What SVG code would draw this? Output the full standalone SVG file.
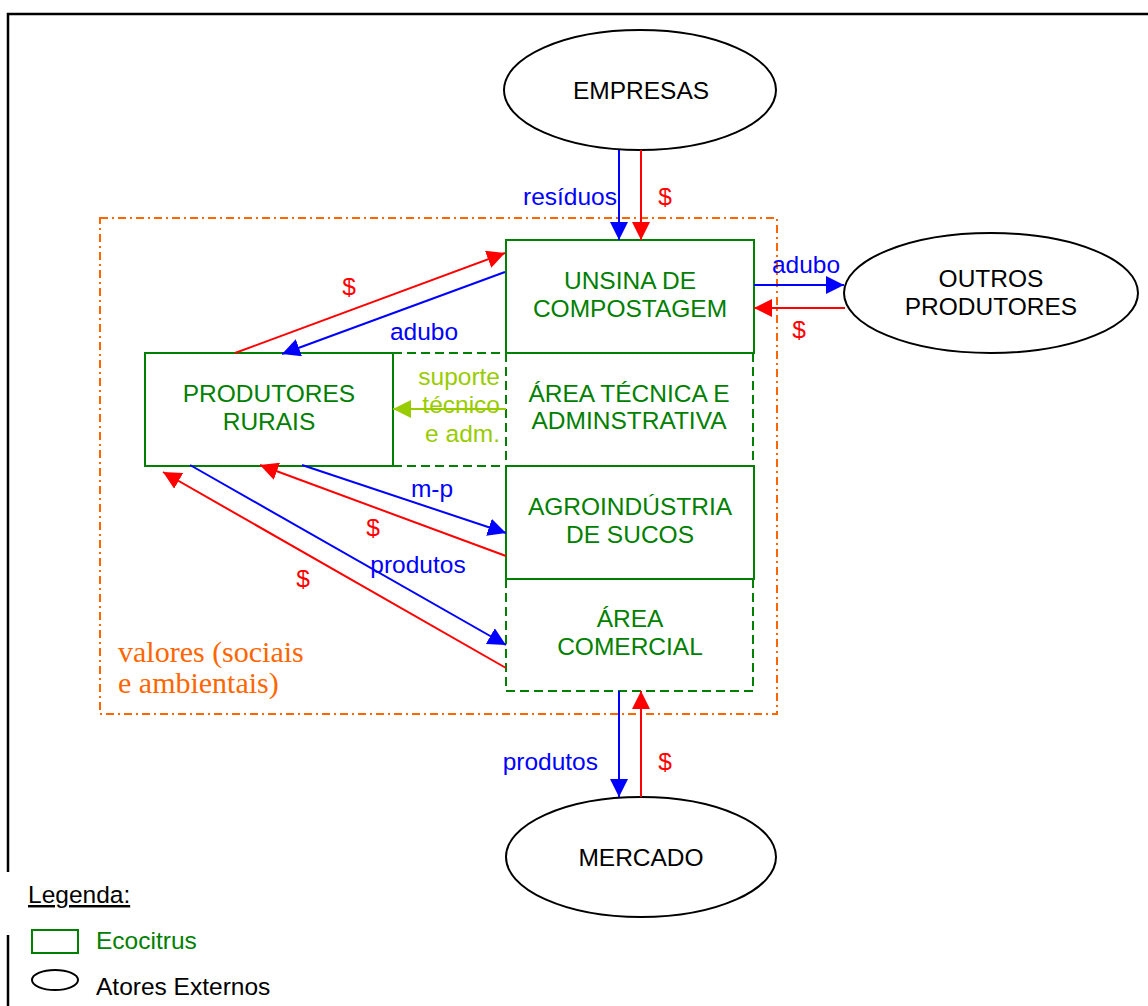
<svg xmlns="http://www.w3.org/2000/svg" width="1148" height="1006" viewBox="0 0 1148 1006">
<style>
text{font-family:"Liberation Sans",Arial,sans-serif;font-size:24.5px}
.g{fill:#008000}
.b{fill:#0000ff}
.r{fill:#ff0000}
.k{fill:#000}
.lg{fill:#99cc00}
.box{fill:none;stroke:#008000;stroke-width:2}
.dash{fill:none;stroke:#008000;stroke-width:2;stroke-dasharray:9,5}
.ell{fill:#fff;stroke:#000;stroke-width:2}
.ab{stroke:#0000ff;stroke-width:2;fill:none}
.ar{stroke:#ff0000;stroke-width:2;fill:none}
.ag{stroke:#99cc00;stroke-width:2;fill:none}
.serif{font-family:"Liberation Serif","Times New Roman",serif;font-size:30px;fill:#ff6600}
</style>
<defs>
<marker id="mb" markerUnits="userSpaceOnUse" markerWidth="20" markerHeight="18" refX="18" refY="9" orient="auto"><path d="M0,0 L18,9 L0,18 z" fill="#0000ff"/></marker>
<marker id="mr" markerUnits="userSpaceOnUse" markerWidth="20" markerHeight="18" refX="18" refY="9" orient="auto"><path d="M0,0 L18,9 L0,18 z" fill="#ff0000"/></marker>
<marker id="mg" markerUnits="userSpaceOnUse" markerWidth="20" markerHeight="18" refX="18" refY="9" orient="auto"><path d="M0,0 L18,9 L0,18 z" fill="#99cc00"/></marker>
</defs>
<rect width="1148" height="1006" fill="#fff"/>
<g id="frame">
<path d="M8,872 V14 H1148" fill="none" stroke="#000" stroke-width="2.5"/>
<path d="M8,935 V1006" fill="none" stroke="#000" stroke-width="2.5"/>
</g>
<g id="valores">
<rect x="100" y="218" width="677" height="496" fill="none" stroke="#ff6600" stroke-width="2" stroke-dasharray="8,4,2,4"/>
<text class="serif" x="118" y="662">valores (sociais</text>
<text class="serif" x="118" y="693">e ambientais)</text>
</g>
<g id="empresas">
<ellipse class="ell" cx="640" cy="90" rx="136" ry="60"/>
<text class="k" x="641" y="99" text-anchor="middle">EMPRESAS</text>
</g>
<g id="outros">
<ellipse class="ell" cx="991" cy="293" rx="147" ry="60"/>
<text class="k" x="991" y="287" text-anchor="middle">OUTROS</text>
<text class="k" x="991" y="315" text-anchor="middle">PRODUTORES</text>
</g>
<g id="mercado">
<ellipse class="ell" cx="641" cy="857" rx="135" ry="60"/>
<text class="k" x="641" y="866" text-anchor="middle">MERCADO</text>
</g>
<g id="usina">
<rect class="box" x="506" y="240" width="248" height="113"/>
<text class="g" x="630" y="289" text-anchor="middle">UNSINA DE</text>
<text class="g" x="630" y="317" text-anchor="middle">COMPOSTAGEM</text>
</g>
<g id="area-tecnica">
<path class="dash" d="M393,353 H506 M393,466 H506 M506,353 V466 M753,353 V466"/>
<text class="g" x="629" y="402" text-anchor="middle">ÁREA TÉCNICA E</text>
<text class="g" x="629" y="429" text-anchor="middle">ADMINSTRATIVA</text>
</g>
<g id="produtores">
<rect class="box" x="145" y="353" width="248" height="113"/>
<text class="g" x="269" y="402" text-anchor="middle">PRODUTORES</text>
<text class="g" x="269" y="430" text-anchor="middle">RURAIS</text>
</g>
<g id="agroindustria">
<rect class="box" x="506" y="466" width="248" height="113"/>
<text class="g" x="630" y="515" text-anchor="middle">AGROINDÚSTRIA</text>
<text class="g" x="630" y="543" text-anchor="middle">DE SUCOS</text>
</g>
<g id="area-comercial">
<path class="dash" d="M506,579 V691 H753 V579"/>
<text class="g" x="630" y="627" text-anchor="middle">ÁREA</text>
<text class="g" x="630" y="655" text-anchor="middle">COMERCIAL</text>
</g>
<g id="connectors">
<line class="ab" x1="619" y1="150" x2="619" y2="240" marker-end="url(#mb)"/>
<line class="ar" x1="641" y1="150" x2="641" y2="240" marker-end="url(#mr)"/>
<line class="ab" x1="754" y1="285" x2="844" y2="285" marker-end="url(#mb)"/>
<line class="ar" x1="845" y1="308" x2="754" y2="308" marker-end="url(#mr)"/>
<line class="ar" x1="235" y1="353" x2="505" y2="253" marker-end="url(#mr)"/>
<line class="ab" x1="505" y1="272" x2="282" y2="354" marker-end="url(#mb)"/>
<line class="ag" x1="506" y1="409" x2="393" y2="409" marker-end="url(#mg)"/>
<line class="ab" x1="302" y1="465" x2="506" y2="533" marker-end="url(#mb)"/>
<line class="ar" x1="506" y1="556" x2="260" y2="465" marker-end="url(#mr)"/>
<line class="ab" x1="190" y1="465" x2="506" y2="645" marker-end="url(#mb)"/>
<line class="ar" x1="506" y1="668" x2="163" y2="472" marker-end="url(#mr)"/>
<line class="ab" x1="619" y1="691" x2="619" y2="797" marker-end="url(#mb)"/>
<line class="ar" x1="641" y1="797" x2="641" y2="691" marker-end="url(#mr)"/>
</g>
<g id="labels">
<text class="b" x="617" y="205" text-anchor="end">resíduos</text>
<text class="r" x="665" y="205" text-anchor="middle">$</text>
<text class="b" x="806" y="273" text-anchor="middle">adubo</text>
<text class="r" x="799" y="338" text-anchor="middle">$</text>
<text class="r" x="349" y="295" text-anchor="middle">$</text>
<text class="b" x="424" y="340" text-anchor="middle">adubo</text>
<text class="lg" x="500" y="385" text-anchor="end">suporte</text>
<text class="lg" x="500" y="413" text-anchor="end">técnico</text>
<text class="lg" x="500" y="442" text-anchor="end">e adm.</text>
<text class="b" x="432" y="497" text-anchor="middle">m-p</text>
<text class="r" x="373" y="536" text-anchor="middle">$</text>
<text class="b" x="418" y="573" text-anchor="middle">produtos</text>
<text class="r" x="303" y="587" text-anchor="middle">$</text>
<text class="b" x="598" y="770" text-anchor="end">produtos</text>
<text class="r" x="665" y="770" text-anchor="middle">$</text>
</g>
<g id="legend">
<text class="k" x="28" y="903" text-decoration="underline">Legenda:</text>
<rect class="box" x="32" y="930" width="46" height="23"/>
<text class="g" x="96" y="949">Ecocitrus</text>
<ellipse cx="55" cy="980" rx="23" ry="10" fill="none" stroke="#000" stroke-width="2"/>
<text class="k" x="96" y="995">Atores Externos</text>
</g>
</svg>
